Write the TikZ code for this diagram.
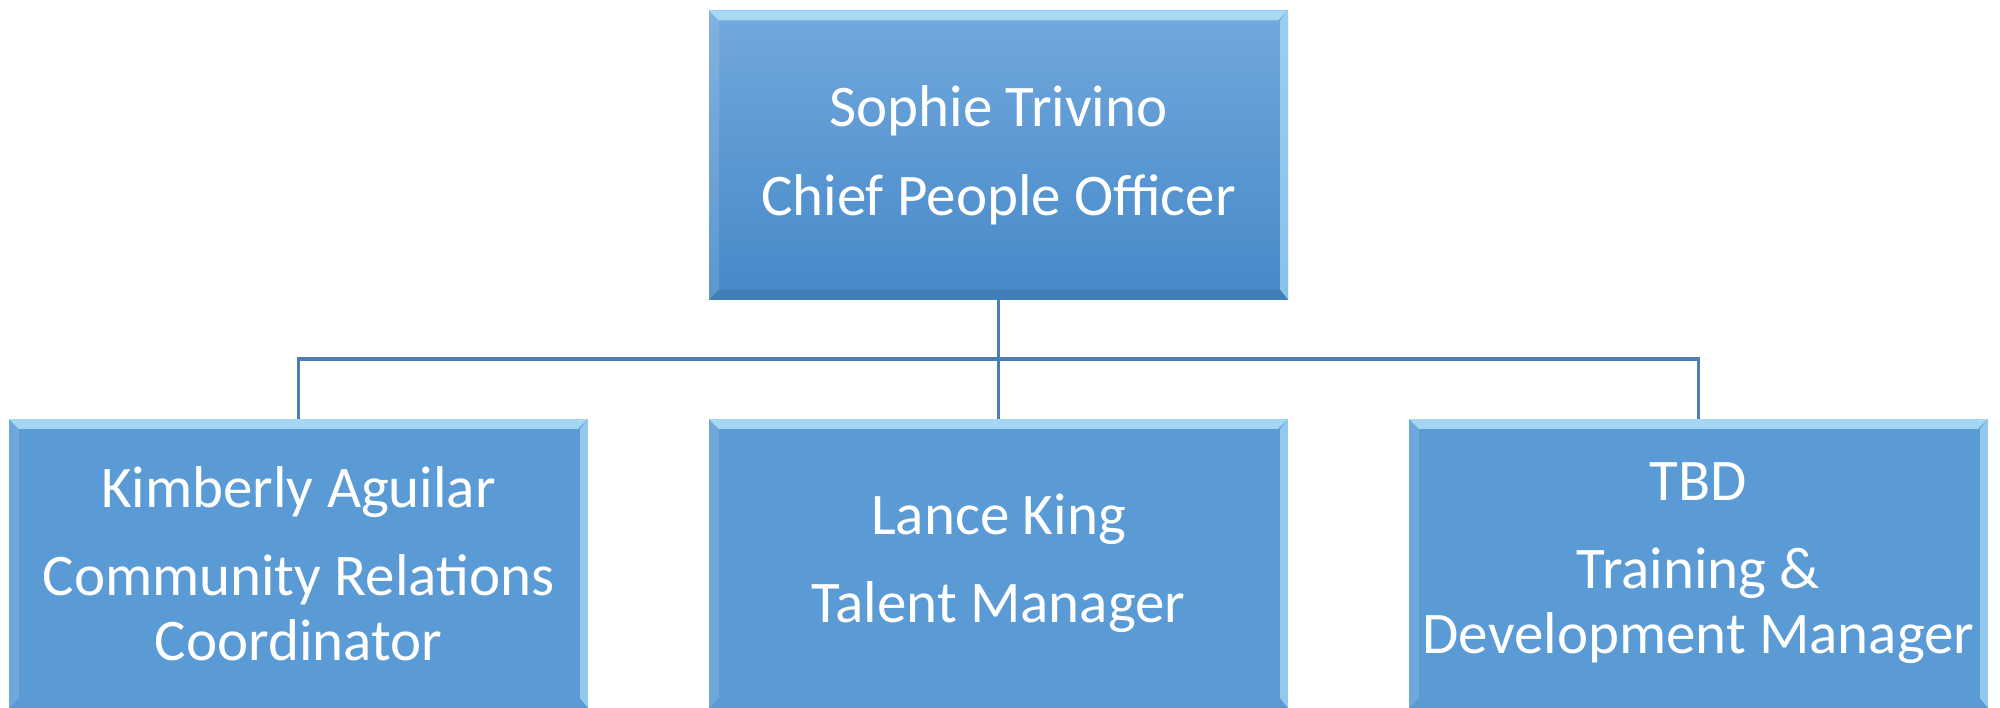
\documentclass[tikz,border=0pt]{standalone}
\usepackage{fontspec}
\setmainfont{Carlito}
\usetikzlibrary{fadings}

\definecolor{boxblue}{HTML}{5B9BD5}
\definecolor{ceotop}{HTML}{72A8DD}
\definecolor{ceobot}{HTML}{4589C8}
\definecolor{lineblue}{HTML}{4A7EBB}
\definecolor{bevcyan}{HTML}{B8E8FC}

% bevel edges of a box: top, left and right
\newcommand{\bevelsides}{%
  \fill[bevcyan, fill opacity=0.8, path fading=south]
    (path picture bounding box.north west) -- (path picture bounding box.north east)
    -- ([xshift=-5pt,yshift=-5pt]path picture bounding box.north east)
    -- ([xshift=5pt,yshift=-5pt]path picture bounding box.north west) -- cycle;
  \fill[white, fill opacity=0.12]
    (path picture bounding box.north west) -- ([xshift=5pt,yshift=-5pt]path picture bounding box.north west)
    -- ([xshift=5pt,yshift=5pt]path picture bounding box.south west) -- (path picture bounding box.south west) -- cycle;
  \fill[bevcyan, fill opacity=0.6]
    (path picture bounding box.north east) -- ([xshift=-4pt,yshift=-5pt]path picture bounding box.north east)
    -- ([xshift=-4pt,yshift=5pt]path picture bounding box.south east) -- (path picture bounding box.south east) -- cycle;
}
% bottom edge, a little darker
\newcommand{\bevelbottom}{%
  \fill[black, fill opacity=0.08]
    (path picture bounding box.south west) -- ([xshift=5pt,yshift=5pt]path picture bounding box.south west)
    -- ([xshift=-4pt,yshift=5pt]path picture bounding box.south east) -- (path picture bounding box.south east) -- cycle;
}

\tikzset{
  person/.style={rectangle, fill=boxblue, inner sep=0pt,
    path picture={\bevelsides},
    minimum width=289.5pt, minimum height=144.5pt,
    text=white, align=center, font=\fontsize{29.5}{32.5}\selectfont},
  chief/.style={person, top color=ceotop, bottom color=ceobot,
    path picture={\bevelsides\bevelbottom}},
  link/.style={draw=lineblue, line width=1.6pt}
}

\begin{document}
\begin{tikzpicture}[x=0.5pt, y=-0.5pt]
  \useasboundingbox (0,0) rectangle (2000,707);

  % top of the tree
  \node[chief] (sophie) at (998.5,155) {Sophie Trivino\\[12pt]Chief People Officer};

  % direct reports
  \node[person] (kimberly) at (298.5,563.5) {Kimberly Aguilar\\[11.5pt]Community Relations\\Coordinator};
  \node[person] (lance) at (998.5,563.5) {Lance King\\[11.5pt]Talent Manager};
  \node[person] (tbd) at (1698.5,563.5) {TBD\\[11.5pt]Training \&\\Development Manager};

  % connectors
  \coordinate (bus) at (998.5,359);
  \draw[link] (sophie.south) -- (lance.north);
  \draw[link] (kimberly.north) |- (bus) -| (tbd.north);
\end{tikzpicture}
\end{document}
